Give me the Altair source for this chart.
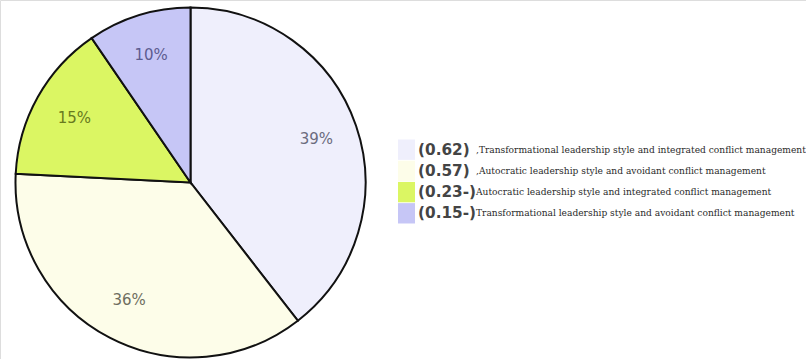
import altair as alt
import pandas as pd

categories = [
    "Transformational leadership style and integrated conflict management",
    "Autocratic leadership style and avoidant conflict management",
    "Autocratic leadership style and integrated conflict management",
    "Transformational leadership style and avoidant conflict management",
]
coef_labels = ["(0.62)", "(0.57)", "(0.23-)", "(0.15-)"]
desc_prefix = [",", ",", "", ""]
values = [0.62, 0.57, 0.23, 0.15]
pct_labels = ["39%", "36%", "15%", "10%"]
slice_colors = ["#EFEFFC", "#FDFDE9", "#DBF663", "#C6C6F6"]
label_colors = ["#6B6B7E", "#6E6E60", "#687A1E", "#5C5C90"]

df = pd.DataFrame({
    "category": categories,
    "value": values,
    "idx": list(range(4)),
    "pct": pct_labels,
    "coef": coef_labels,
    "desc": [p + c for p, c in zip(desc_prefix, categories)],
    "lcolor": label_colors,
})

color = alt.Color("category:N", scale=alt.Scale(domain=categories, range=slice_colors), legend=None)
theta = alt.Theta("value:Q", stack=True)
order = alt.Order("idx:Q")

pie = alt.Chart(df).mark_arc(
    x=190.5, y=182.5, outerRadius=175, stroke="#111111", strokeWidth=2
).encode(theta=theta, color=color, order=order)

pie_text = alt.Chart(df).mark_text(
    x=190.5, y=182.5, radius=133, font="DejaVu Sans", fontSize=15
).encode(theta=theta, order=order, text="pct:N",
         color=alt.Color("lcolor:N", scale=None))

yband = alt.Y("category:N", sort=categories, axis=None,
              scale=alt.Scale(domain=categories, range=[139.5, 223.5], paddingInner=0.04, paddingOuter=0))

leg_rect = alt.Chart(df).mark_rect().encode(
    x=alt.value(398), x2=alt.value(415), y=yband, color=color)

leg_coef = alt.Chart(df).mark_text(
    align="left", baseline="middle", font="DejaVu Sans", fontWeight="bold", fontSize=15.3, color="#444444"
).encode(x=alt.value(418), y=yband, text="coef:N")

leg_desc = alt.Chart(df).mark_text(
    align="left", baseline="middle", font="DejaVu Serif", fontSize=9.1, color="#2a2a2a"
).encode(x=alt.value(476), y=yband, text="desc:N")

chart = alt.layer(pie, pie_text, leg_rect, leg_coef, leg_desc).properties(
    width=806, height=359, autosize=alt.AutoSizeParams(type="none"), padding=0
).configure_view(stroke=None).configure(background="white")

chart.save("out.html", embed_options={"renderer": "svg", "actions": False})
